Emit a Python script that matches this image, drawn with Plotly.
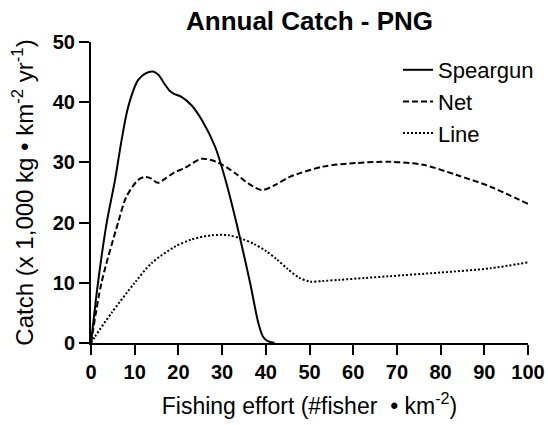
import plotly.graph_objects as go

# ---- data ----
speargun_x = [0, 1.6, 3.6, 5.5, 7, 8.5, 10.8, 12.5, 14.2, 15.5, 16.5, 18, 19, 20.7, 23, 25.4, 28.4, 30.7, 33.3, 36.4, 38.3, 39.4, 40.5, 42]
speargun_y = [0, 10, 20, 27.1, 33.7, 39.2, 43.7, 44.8, 45.1, 44.5, 43.4, 41.9, 41.4, 40.9, 39.5, 37, 32.6, 27.3, 19.9, 10, 3.3, 1.0, 0.3, 0]

net_x = [0, 2.4, 6.2, 8.1, 10.8, 12.4, 13.8, 15.3, 17, 19, 21.5, 25.3, 29, 33, 36, 39.1, 42, 45.5, 53.1, 60.8, 68.4, 76, 83.7, 91.3, 100]
net_y = [0, 10, 20, 24.3, 27.1, 27.6, 27.3, 26.6, 27.3, 28.3, 29.1, 30.6, 30.0, 28.2, 26.5, 25.4, 26.2, 27.6, 29.3, 29.9, 30.1, 29.6, 27.9, 26.0, 23.1]

line_x = [0, 0.9, 4.7, 10, 13.9, 19.2, 23, 27.6, 31.4, 34.5, 37.2, 40, 42.5, 45, 47.5, 50.1, 53, 57, 62.7, 68.4, 79.9, 91.3, 100]
line_y = [0, 1.05, 5, 10, 13.3, 16, 17.2, 17.9, 17.9, 17.3, 16.5, 15.3, 13.9, 12.3, 10.9, 10.2, 10.3, 10.5, 10.8, 11.1, 11.7, 12.4, 13.4]

x_ticks = [0, 10, 20, 30, 40, 50, 60, 70, 80, 90, 100]
y_ticks = [0, 10, 20, 30, 40, 50]

series = [
    ("Speargun", speargun_x, speargun_y, "solid"),
    ("Net", net_x, net_y, "6px,3px"),
    ("Line", line_x, line_y, "2px,2px"),
]

FONT = "Arial, Liberation Sans, sans-serif"

fig = go.Figure()
for name, xs, ys, dash in series:
    fig.add_trace(go.Scatter(
        x=xs, y=ys, name=name, mode="lines", legendgroup=name,
        line=dict(color="black", width=2, dash=dash, shape="spline", smoothing=0.8),
    ))

fig.update_layout(
    width=548, height=425,
    paper_bgcolor="white", plot_bgcolor="white",
    margin=dict(l=91, r=20, t=42, b=82, autoexpand=False),
    font=dict(family=FONT, color="black"),
    title=dict(text="<b>Annual Catch - PNG</b>", x=0.5, xref="paper", xanchor="center",
               y=1 - 21 / 425, yanchor="middle", font=dict(size=26, family=FONT, color="black")),
    showlegend=True,
    legend=dict(xref="container", yref="container", x=398 / 548, y=1 - 49 / 425,
                xanchor="left", yanchor="top",
                font=dict(size=22, family=FONT, color="black"),
                bgcolor="rgba(0,0,0,0)", tracegroupgap=0, traceorder="normal"),
    xaxis=dict(range=[0, 100], tickvals=x_ticks, ticktext=[str(v) for v in x_ticks],
               showline=True, linecolor="black", linewidth=2, ticks="outside", ticklen=10,
               tickwidth=2, tickcolor="black", showgrid=False, zeroline=False,
               tickfont=dict(size=20, family=FONT, weight="bold", color="black"),
               title=dict(text="Fishing effort (#fisher  • km<sup>-2</sup>)", standoff=16,
                          font=dict(size=23, family=FONT, color="black"))),
    yaxis=dict(range=[0, 50], tickvals=y_ticks, ticktext=[str(v) for v in y_ticks],
               showline=True, linecolor="black", linewidth=2, ticks="outside", ticklen=10,
               tickwidth=2, tickcolor="black", showgrid=False, zeroline=False,
               tickfont=dict(size=20, family=FONT, weight="bold", color="black"),
               title=dict(text="Catch (x 1,000 kg • km<sup>-2</sup> yr<sup>-1</sup>)", standoff=12,
                          font=dict(size=24, family=FONT, color="black"))),
)

fig.write_html("out.html", config={"displayModeBar": False},
               post_script="document.body.style.margin='0';document.body.style.overflow='hidden';")
